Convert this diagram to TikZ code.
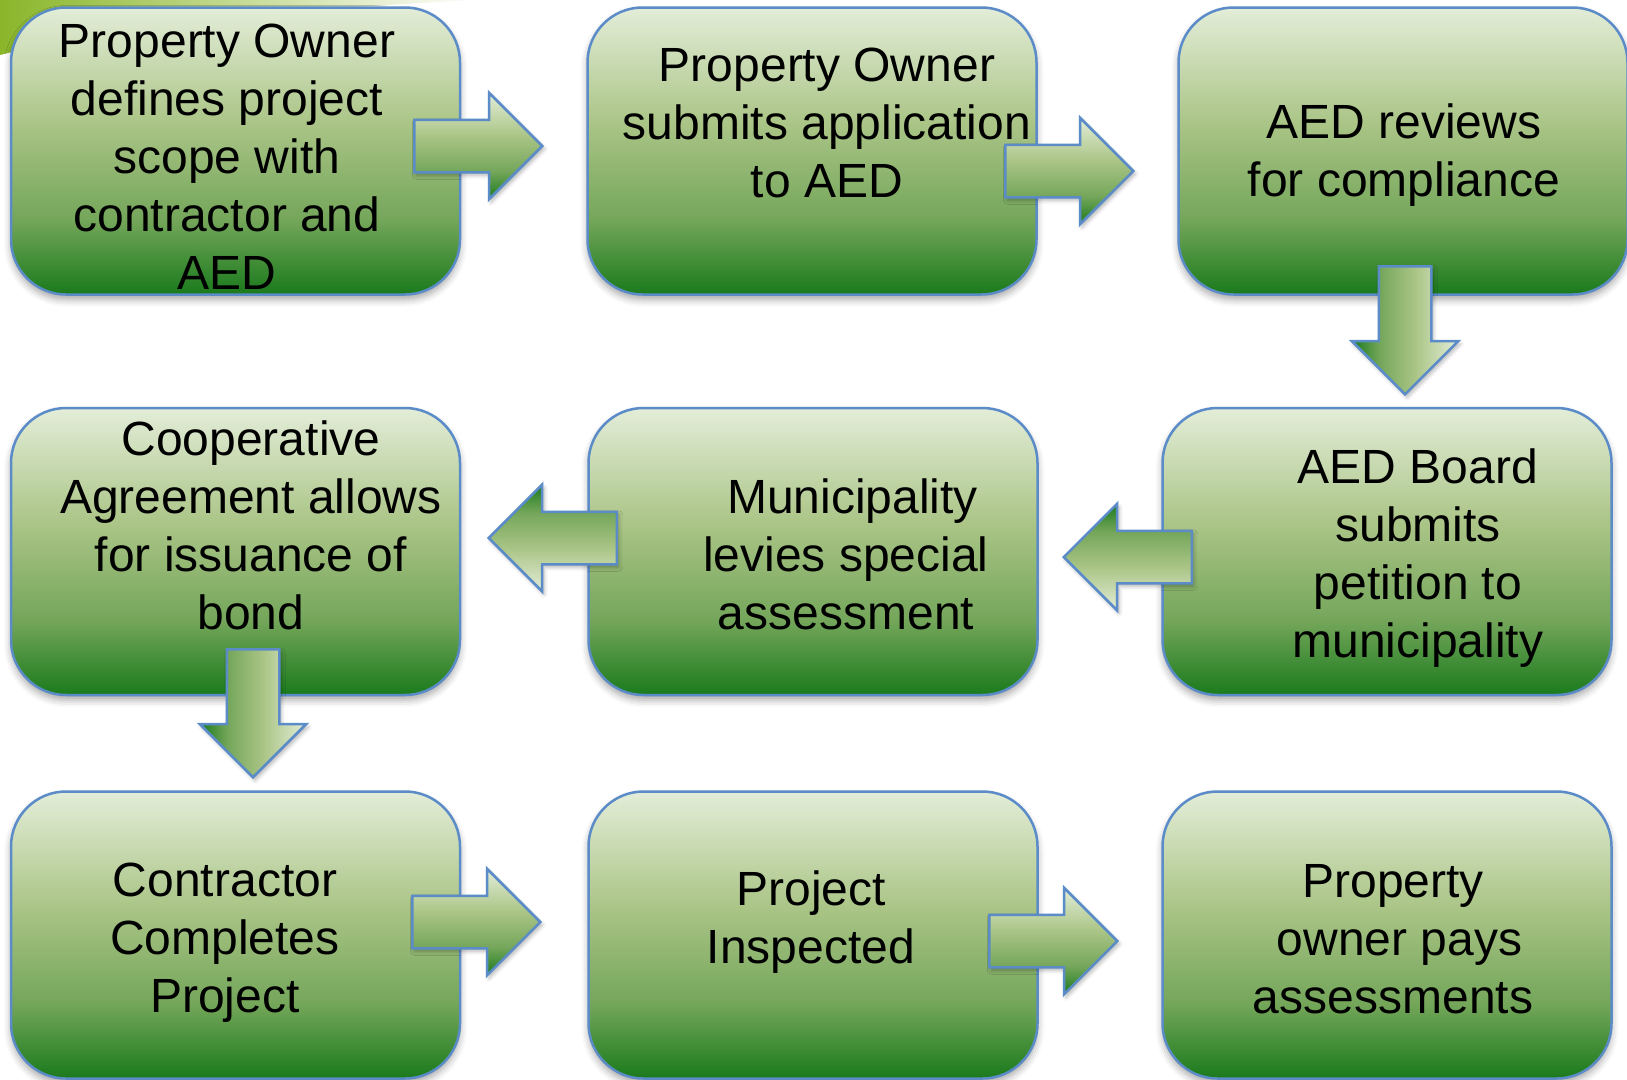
\documentclass[tikz,border=0pt]{standalone}
\usepackage{fontspec}
\setmainfont{Liberation Sans}
\usetikzlibrary{shapes.arrows,shadows.blur}
\definecolor{edgeblue}{HTML}{5B8CC8}
\definecolor{greenlt}{HTML}{E3EDD8}
\definecolor{greenmd}{HTML}{ABC587}
\definecolor{greenhf}{HTML}{74A65A}
\definecolor{greendk}{HTML}{1A7A1C}
\definecolor{lime}{HTML}{8AB62A}
\pgfdeclareverticalshading{stepgreen}{100bp}{color(0bp)=(greendk); color(25bp)=(greendk); color(38bp)=(greenhf); color(55bp)=(greenmd); color(75bp)=(greenlt); color(100bp)=(greenlt)}
\begin{document}
\begin{tikzpicture}[x=1pt, y=1pt,
        stepbox/.style={draw=edgeblue, line width=2.5pt, rounded corners=55pt, shade, shading=stepgreen,
            minimum width=449pt, minimum height=287pt, inner sep=0pt,
            blur shadow={shadow xshift=0pt, shadow yshift=-5pt, shadow blur radius=7pt, shadow opacity=35}},
        steptext/.style={align=center, font=\fontsize{48}{58}\selectfont},
        blockarrow/.style={single arrow, draw=edgeblue, line width=2.5pt, shade, shading=stepgreen,
            inner xsep=0pt, inner ysep=25pt, single arrow head extend=27pt, single arrow tip angle=90,
            single arrow head indent=0pt, minimum height=128pt, anchor=tail,
            blur shadow={shadow xshift=2pt, shadow yshift=-3pt, shadow blur radius=4pt, shadow opacity=30}}]
    \useasboundingbox (0,0) rectangle (1627,-1079);
    \shade[left color=lime, middle color=lime, right color=white] (0,0) -- (480,0) .. controls (300,-8) and (120,-25) .. (0,-55) -- cycle;
    \node[stepbox] (owner) at (235.5,-151) {};
    \node[stepbox] (apply) at (812,-151) {};
    \node[stepbox] (review) at (1403,-151) {};
    \node[stepbox] (bond) at (235.5,-551.5) {};
    \node[stepbox] (levy) at (813,-551.5) {};
    \node[stepbox] (board) at (1387,-551.5) {};
    \node[stepbox] (build) at (235.5,-935) {};
    \node[stepbox] (inspect) at (813,-935) {};
    \node[stepbox] (pay) at (1387,-935) {};
    \node[steptext] (owner-t) at (227,-157) {Property Owner\\defines project\\scope with\\contractor and\\AED};
    \node[steptext] (apply-t) at (827,-123) {Property Owner\\submits application\\to AED};
    \node[steptext] (review-t) at (1404,-155) {AED reviews\\for compliance};
    \node[steptext] (bond-t) at (251,-525) {Cooperative\\Agreement allows\\for issuance of\\bond};
    \node[steptext] (levy-t) at (846,-554) {\hspace*{13pt}Municipality\\levies special\\assessment};
    \node[steptext] (board-t) at (1418,-558) {AED Board\\submits\\petition to\\municipality};
    \node[steptext] (build-t) at (225,-943) {Contractor\\Completes\\Project};
    \node[steptext] (inspect-t) at (811,-922) {Project\\Inspected};
    \node[steptext] (pay-t) at (1393,-939) {Property\\\hspace*{13pt}owner pays\\assessments};
    \node[blockarrow] (owner-apply) at (413,-146) {};
    \node[blockarrow] (apply-review) at (1004,-171) {};
    \node[blockarrow, rotate=-90, shading angle=-90] (review-board) at (1405,-265) {};
    \node[blockarrow, rotate=180, shading angle=180] (board-levy) at (1193,-557) {};
    \node[blockarrow, rotate=180, shading angle=180] (levy-bond) at (618,-538) {};
    \node[blockarrow, rotate=-90, shading angle=-90] (bond-build) at (253,-648) {};
    \node[blockarrow] (build-inspect) at (411,-922) {};
    \node[blockarrow] (inspect-pay) at (988,-941) {};
\end{tikzpicture}
\end{document}
